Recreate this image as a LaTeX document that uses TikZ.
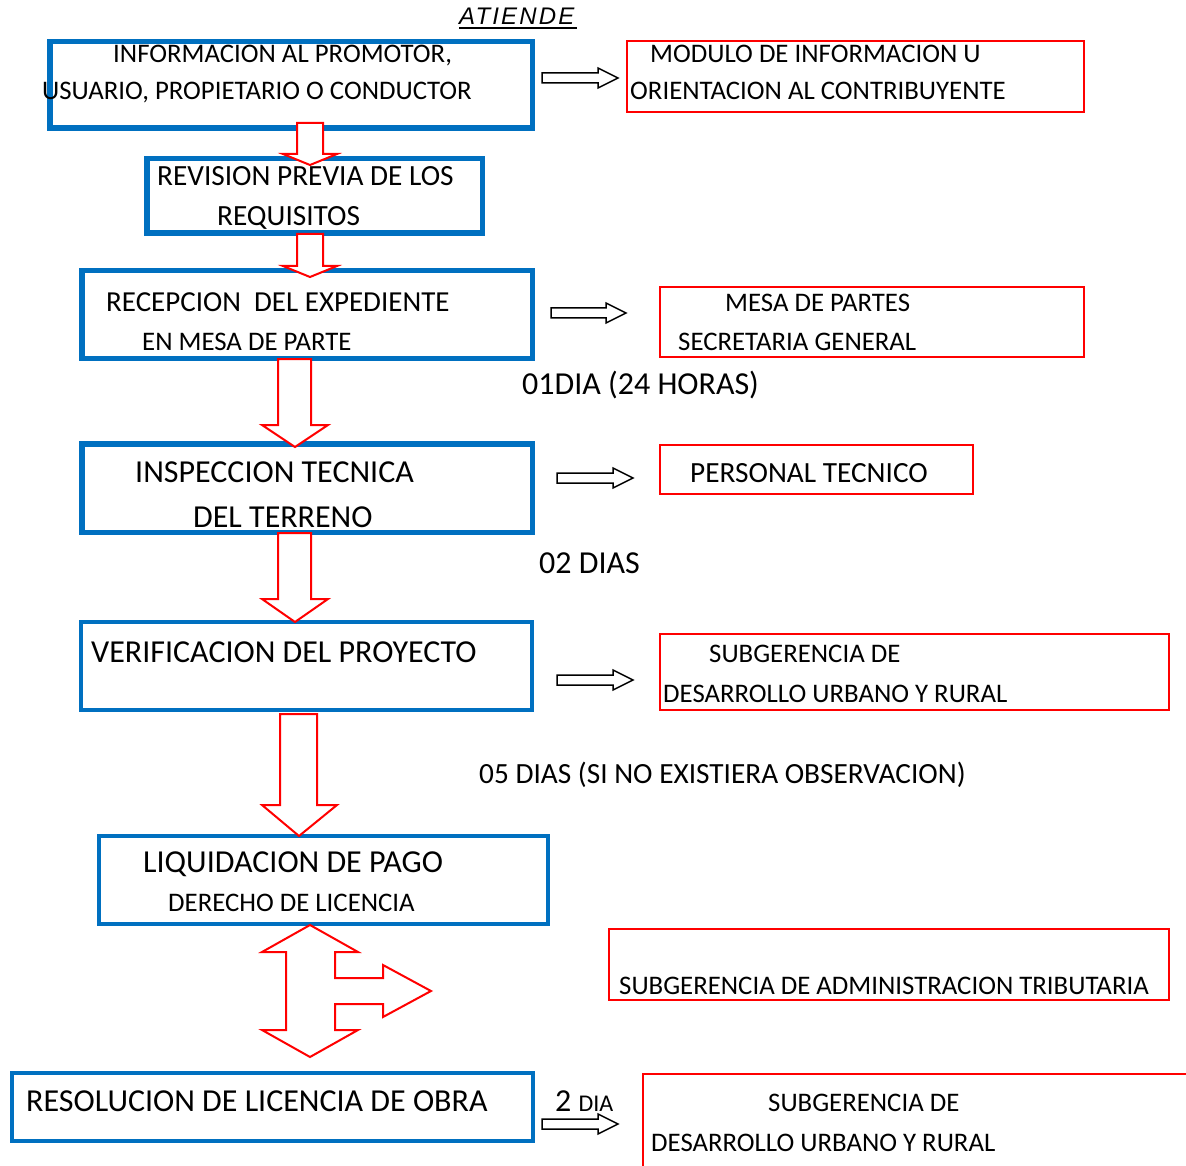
\documentclass[tikz,border=0pt]{standalone}
\usepackage{fontspec}
\setmainfont{Carlito}
\newfontfamily\arialfont[LetterSpace=9]{Liberation Sans}
\definecolor{wblue}{HTML}{0070C0}
\definecolor{wred}{HTML}{FF0000}
\newcommand\fsS{\fontsize{26.8}{30}\selectfont}
\newcommand\fsM{\fontsize{29.3}{33}\selectfont}
\newcommand\fsL{\fontsize{32}{36}\selectfont}
\begin{document}
\begin{tikzpicture}[x=1pt,y=-1pt,
  bluebox/.style={draw=wblue, line width=5.5pt, inner sep=0pt},
  bluethin/.style={draw=wblue, line width=4pt, inner sep=0pt},
  redbox/.style={draw=wred, line width=1.8pt, inner sep=0pt},
  txt/.style={inner sep=0pt, anchor=base west},
  redarrow/.style={draw=wred, line width=2pt, fill=white, line join=miter},
  blackarrow/.style={draw=black, line width=1.5pt, fill=white, line join=miter}]
\useasboundingbox (0,0) rectangle (1186,1166);
\fill[white] (0,0) rectangle (1186,1166);

% blue process boxes
\node[bluebox, minimum width=482.5pt, minimum height=86.5pt] (b1) at (291,85) {};
\node[bluebox, minimum width=335.5pt, minimum height=74.5pt] (b2) at (314.5,196) {};
\node[bluebox, minimum width=450.5pt, minimum height=87.5pt] (b3) at (307,314.5) {};
\node[bluebox, minimum width=450.5pt, minimum height=88.5pt] (b4) at (307,488) {};
\node[bluethin, minimum width=451pt, minimum height=88pt] (b5) at (306.5,666) {};
\node[bluethin, minimum width=449pt, minimum height=88pt] (b6) at (323.5,880) {};
\node[bluethin, minimum width=521pt, minimum height=68pt] (b7) at (272.5,1107) {};

% red boxes
\node[redbox, minimum width=457pt, minimum height=71pt] (rA) at (855.5,76.5) {};
\node[redbox, minimum width=424pt, minimum height=70pt] (rB) at (872,322) {};
\node[redbox, minimum width=313pt, minimum height=49pt] (rC) at (816.5,469.5) {};
\node[redbox, minimum width=509pt, minimum height=76pt] (rD) at (914.5,672) {};
\node[redbox, minimum width=560pt, minimum height=71pt] (rE) at (889,964.5) {};
\begin{scope}
\clip (0,0) rectangle (1186,1166);
\node[redbox, minimum width=600pt, minimum height=140pt, anchor=north west] (rF) at (642,1073) {};
\end{scope}

% red down block arrows
\draw[redarrow] (297,123) -- (323,123) -- (323,154) -- (337,154) -- (310,165)
  -- (283,154) -- (297,154) -- cycle;
\draw[redarrow] (297,234) -- (323,234) -- (323,266) -- (337,266) -- (310,277)
  -- (283,266) -- (297,266) -- cycle;
\draw[redarrow] (278,359) -- (311,359) -- (311,425) -- (328,425) -- (295,447)
  -- (262,425) -- (278,425) -- cycle;
\draw[redarrow] (278,533) -- (311,533) -- (311,599) -- (328,599) -- (295,622)
  -- (262,599) -- (278,599) -- cycle;
\draw[redarrow] (280,714) -- (317,714) -- (317,805) -- (337,805) -- (299,836)
  -- (262,805) -- (280,805) -- cycle;
% three-headed arrow
\draw[redarrow] (310,925) -- (358,952) -- (335,952) -- (335,978) -- (383,978)
  -- (383,965) -- (431,991) -- (383,1017) -- (383,1004) -- (335,1004)
  -- (335,1030) -- (358,1030) -- (310,1057) -- (262,1030) -- (286,1030)
  -- (286,952) -- (262,952) -- cycle;

% black right block arrows
\draw[blackarrow] (542,73) -- (598,73) -- (598,68) -- (618,78) -- (598,88)
  -- (598,83) -- (542,83) -- cycle;
\draw[blackarrow] (551,308) -- (606,308) -- (606,303) -- (626,313) -- (606,323)
  -- (606,318) -- (551,318) -- cycle;
\draw[blackarrow] (557,473) -- (613,473) -- (613,468) -- (633,478) -- (613,488)
  -- (613,483) -- (557,483) -- cycle;
\draw[blackarrow] (557,675) -- (613,675) -- (613,670) -- (633,680) -- (613,690)
  -- (613,685) -- (557,685) -- cycle;
\draw[blackarrow] (542,1119) -- (598,1119) -- (598,1114) -- (618,1124) -- (598,1134)
  -- (598,1129) -- (542,1129) -- cycle;

% header
\node[txt, font=\arialfont\itshape\fontsize{24}{28}\selectfont] (atiende) at (459,25) {ATIENDE};
\draw[line width=1.3pt] (459,28) -- (577,28);

% texts in blue boxes
\node[txt, font=\fsS] (t1a) at (113,62.5) {INFORMACION AL PROMOTOR,};
\node[txt, font=\fsS] (t1b) at (42,99.5) {USUARIO, PROPIETARIO O CONDUCTOR};
\node[txt, font=\fsM] (t2a) at (157,185.3) {REVISION PREVIA DE LOS};
\node[txt, font=\fsM] (t2b) at (217,225.3) {REQUISITOS};
\node[txt, font=\fontsize{29}{33}\selectfont] (t3a) at (106,311.3) {RECEPCION\ \ DEL EXPEDIENTE};
\node[txt, font=\fsS] (t3b) at (142,350.5) {EN MESA DE PARTE};
\node[txt, font=\fsL] (t4a) at (135,482.3) {INSPECCION TECNICA};
\node[txt, font=\fsL] (t4b) at (193,527.3) {DEL TERRENO};
\node[txt, font=\fsL] (t5) at (91,662.3) {VERIFICACION DEL PROYECTO};
\node[txt, font=\fsL] (t6a) at (143,872.3) {LIQUIDACION DE PAGO};
\node[txt, font=\fsS] (t6b) at (168,911.5) {DERECHO DE LICENCIA};
\node[txt, font=\fsL] (t7) at (26,1111.3) {RESOLUCION DE LICENCIA DE OBRA};

% texts in red boxes
\node[txt, font=\fsS] (tAa) at (650,62.5) {MODULO DE INFORMACION U};
\node[txt, font=\fsS] (tAb) at (630,99.5) {ORIENTACION AL CONTRIBUYENTE};
\node[txt, font=\fsS] (tBa) at (725,311.5) {MESA DE PARTES};
\node[txt, font=\fsS] (tBb) at (678,350.5) {SECRETARIA GENERAL};
\node[txt, font=\fsM] (tC) at (690,482.3) {PERSONAL TECNICO};
\node[txt, font=\fsS] (tDa) at (709,662.5) {SUBGERENCIA DE};
\node[txt, font=\fsS] (tDb) at (663,702.5) {DESARROLLO URBANO Y RURAL};
\node[txt, font=\fsS] (tE) at (619,994.5) {SUBGERENCIA DE ADMINISTRACION TRIBUTARIA};
\node[txt, font=\fsS] (tFa) at (768,1111.5) {SUBGERENCIA DE};
\node[txt, font=\fsS] (tFb) at (651,1151.5) {DESARROLLO URBANO Y RURAL};

% durations
\node[txt, font=\fsL] (d1) at (522,394.3) {01DIA (24 HORAS)};
\node[txt, font=\fsL] (d2) at (539,573.3) {02 DIAS};
\node[txt, font=\fsM] (d3) at (479,783.3) {05 DIAS (SI NO EXISTIERA OBSERVACION)};
\node[txt] (d4) at (555,1111.3) {\fsL 2 \fontsize{24}{28}\selectfont DIA};
\end{tikzpicture}
\end{document}
